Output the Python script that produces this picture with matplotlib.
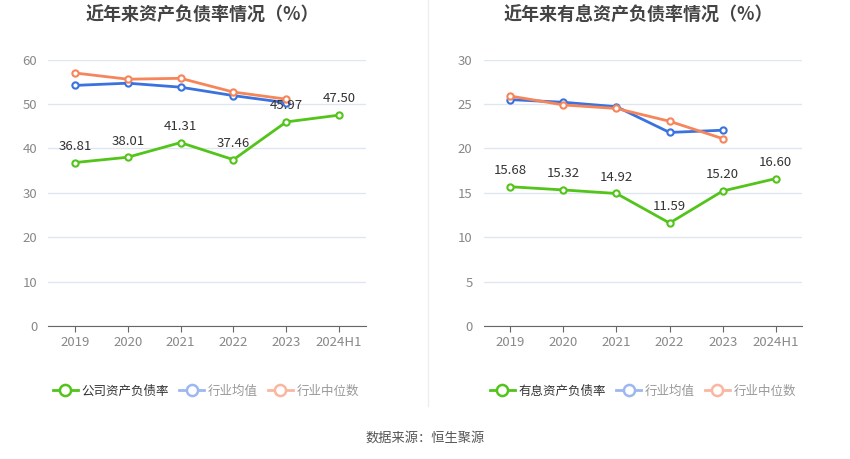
import matplotlib.pyplot as plt
from matplotlib.lines import Line2D

plt.rcParams['font.family'] = ['Noto Sans CJK SC', 'DejaVu Sans']

years = ['2019', '2020', '2021', '2022', '2023', '2024H1']

# 资产负债率
debt_ratio = [36.81, 38.01, 41.31, 37.46, 45.97, 47.50]
debt_avg = [54.2, 54.7, 53.8, 51.9, 50.3]
debt_median = [57.0, 55.6, 55.8, 52.7, 51.1]

# 有息资产负债率
int_ratio = [15.68, 15.32, 14.92, 11.59, 15.20, 16.60]
int_avg = [25.5, 25.2, 24.7, 21.8, 22.05]
int_median = [25.9, 24.9, 24.5, 23.06, 21.1]

green = '#52c41a'
blue = '#3a72e0'
orange = '#f7855a'

fig = plt.figure(figsize=(8.5, 4.59), dpi=100)


def draw(rect, title, main, avg, med, ymax, step, main_label, leg_x):
    ax = fig.add_axes(rect)
    x = list(range(len(years)))
    ax.plot(x[:len(avg)], avg, color=blue, lw=2, marker='o', ms=4.5,
            mfc='white', mec=blue, mew=1.5, zorder=3)
    ax.plot(x[:len(med)], med, color=orange, lw=2, marker='o', ms=4.5,
            mfc='white', mec=orange, mew=1.5, zorder=3)
    ax.plot(x, main, color=green, lw=2, marker='o', ms=4.5,
            mfc='white', mec=green, mew=1.5, zorder=4)
    for xi, v in zip(x, main):
        ax.annotate(f'{v:.2f}', (xi, v), xytext=(0, 7), textcoords='offset points',
                    ha='center', va='bottom', fontsize=9.5, color='#333333', zorder=5)
    ax.set_xlim(-0.5, len(years) - 0.5)
    ax.set_ylim(0, ymax)
    ax.set_yticks(range(0, ymax + 1, step))
    ax.set_xticks(x)
    ax.set_xticklabels(years)
    ax.tick_params(axis='y', length=0, colors='#888888', labelsize=9.5, pad=8)
    ax.tick_params(axis='x', length=4, color='#666666', colors='#888888', labelsize=9.5)
    ax.grid(axis='y', color='#e0e6f1', lw=1)
    ax.set_axisbelow(True)
    for s in ['top', 'right', 'left']:
        ax.spines[s].set_visible(False)
    ax.spines['bottom'].set_color('#666666')
    fig.text(rect[0] + rect[2] / 2 - 0.005, 0.967, title, ha='center', va='center',
             fontsize=13, fontweight='bold', color='#444444')
    handles = [
        Line2D([], [], color=green, lw=2, marker='o', ms=8, mfc='white', mec=green, mew=1.8),
        Line2D([], [], color='#9db8f0', lw=2, marker='o', ms=8, mfc='white', mec='#9db8f0', mew=1.8),
        Line2D([], [], color='#fab7a0', lw=2, marker='o', ms=8, mfc='white', mec='#fab7a0', mew=1.8),
    ]
    leg = fig.legend(handles, [main_label, '行业均值', '行业中位数'],
                     loc='center', bbox_to_anchor=(leg_x, 0.148),
                     ncol=3, frameon=False, fontsize=9, handlelength=2.0,
                     handletextpad=0.3, columnspacing=0.8)
    for i, t in enumerate(leg.get_texts()):
        t.set_color('#333333' if i == 0 else '#999999')
    return ax


draw([0.057, 0.29, 0.373, 0.58], '近年来资产负债率情况（%）',
     debt_ratio, debt_avg, debt_median, 60, 10, '公司资产负债率', 0.2424)
draw([0.569, 0.29, 0.375, 0.58], '近年来有息资产负债率情况（%）',
     int_ratio, int_avg, int_median, 30, 5, '有息资产负债率', 0.7565)

fig.add_artist(Line2D([0.503, 0.503], [0.115, 1.0], color='#eeeeee', lw=1))
fig.text(0.5, 0.045, '数据来源：恒生聚源', ha='center', va='center',
         fontsize=9.5, color='#555555')

fig.savefig('out.png', dpi=100)
